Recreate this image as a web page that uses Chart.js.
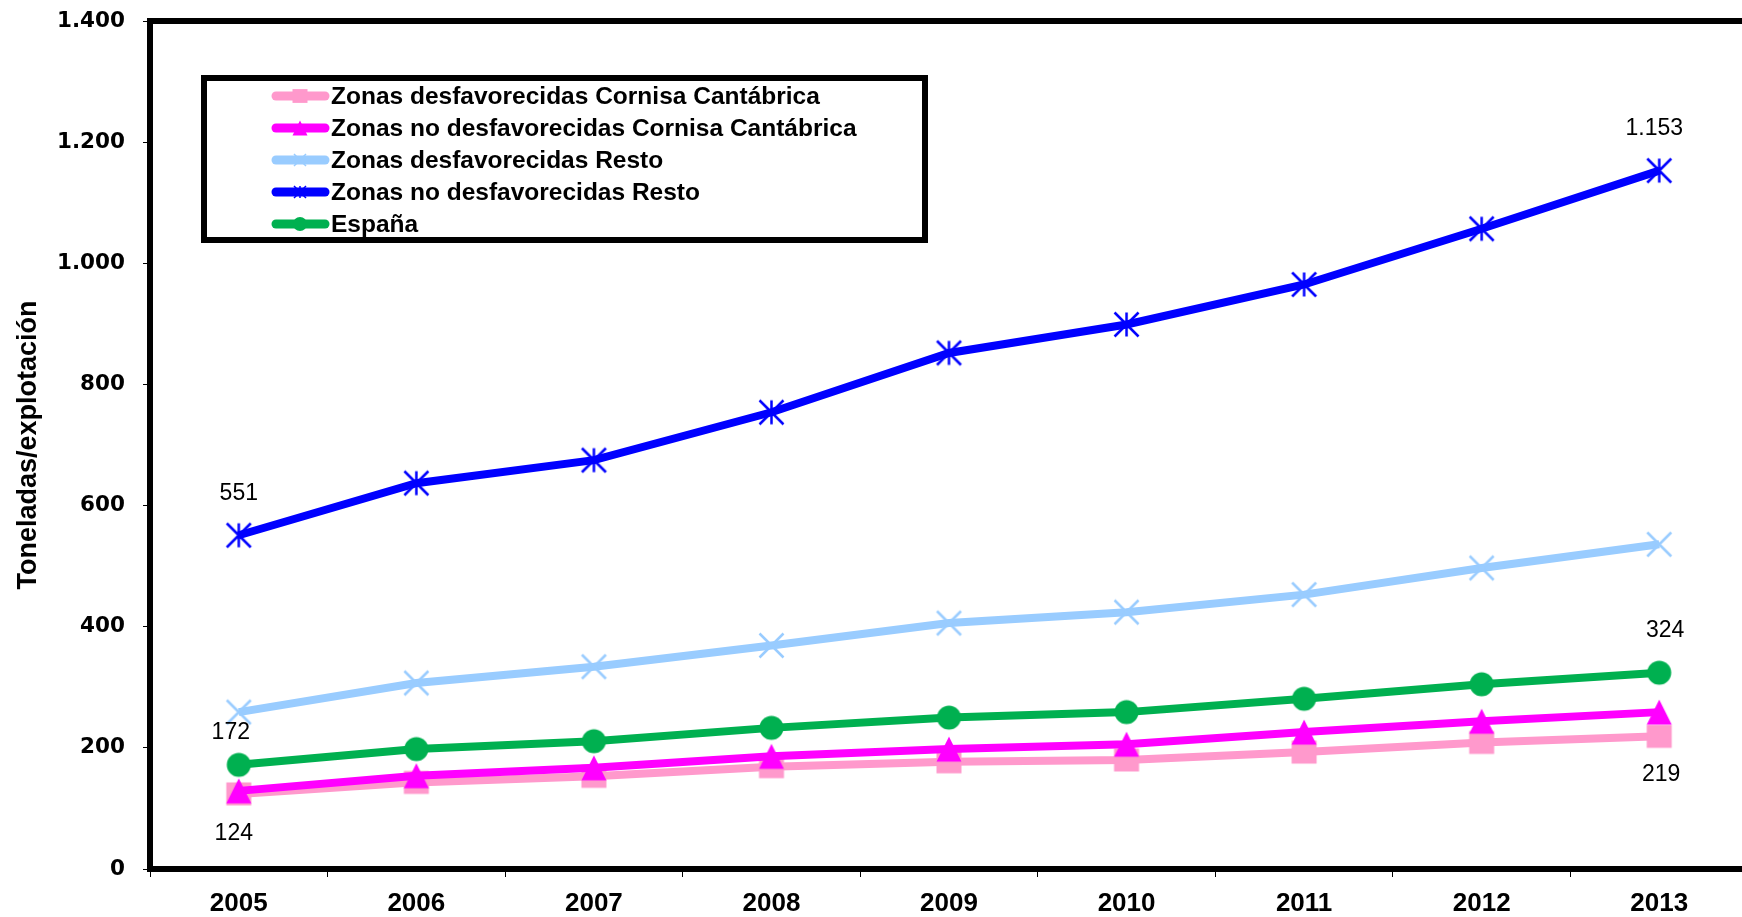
<!DOCTYPE html>
<html><head><meta charset="utf-8">
<script src="https://cdn.jsdelivr.net/npm/chart.js@4.4.1/dist/chart.umd.min.js"></script>
<style>
html,body{margin:0;padding:0;overflow:hidden;background:#fff;width:1742px;height:917px}
#wrap{position:absolute;left:0;top:0;width:1768px;height:917px}
</style>
</head><body><div id="wrap"><canvas id="c" width="1768" height="917"></canvas></div>
<script>
// ---- data ----
const years = ['2005','2006','2007','2008','2009','2010','2011','2012','2013'];
const zonasDesfCornisa   = [124,143,153,169,177,180,193,209,219];
const zonasNoDesfCornisa = [129,154,167,186,198,206,226,244,259];
const zonasDesfResto     = [259,307,334,369,406,424,453,497,536];
const zonasNoDesfResto   = [551,637,675,754,852,899,965,1057,1153];
const espana             = [172,198,211,233,250,259,281,305,324];
const seriesNames = [
  'Zonas desfavorecidas Cornisa Cantábrica',
  'Zonas no desfavorecidas Cornisa Cantábrica',
  'Zonas desfavorecidas Resto',
  'Zonas no desfavorecidas Resto',
  'España'
];
const yTickValues = [0,200,400,600,800,1000,1200,1400];
const yTitle = 'Toneladas/explotación';
// labelled points: [series index, year index]
const labelledPoints = [[3,0],[3,8],[4,0],[4,8],[0,0],[0,8]];

// ---- styles ----
const colors = ['#FF99CC','#FF00FF','#99CCFF','#0000FF','#00B050'];
const shapes = ['square','triangle','x','asterisk','circle'];
const labelOffsets = {'3,0':[0,-42],'3,8':[-5,-42],'4,0':[-8,-32],'4,8':[6,-42],'0,0':[-5,40],'0,8':[2,38]};

function fmt(v){ return String(Math.round(v)).replace(/\B(?=(\d{3})+(?!\d))/g,'.'); }

function drawShape(ctx, shape, x, y, s, color, lw){
  ctx.save();
  ctx.fillStyle = color; ctx.strokeStyle = color; ctx.lineWidth = lw; ctx.lineCap='butt';
  ctx.beginPath();
  if (shape==='square'){ ctx.rect(x-s, y-s*0.92, 2*s, 2*s*0.92); ctx.fill(); }
  else if (shape==='circle'){ ctx.arc(x,y,s,0,Math.PI*2); ctx.fill(); }
  else if (shape==='triangle'){ ctx.moveTo(x, y-s); ctx.lineTo(x+s, y+s); ctx.lineTo(x-s, y+s); ctx.closePath(); ctx.fill(); }
  else if (shape==='x'){ ctx.moveTo(x-s,y-s); ctx.lineTo(x+s,y+s); ctx.moveTo(x-s,y+s); ctx.lineTo(x+s,y-s); ctx.stroke(); }
  else if (shape==='asterisk'){ ctx.moveTo(x-s,y-s); ctx.lineTo(x+s,y+s); ctx.moveTo(x-s,y+s); ctx.lineTo(x+s,y-s); ctx.moveTo(x,y-s); ctx.lineTo(x,y+s); ctx.stroke(); }
  ctx.restore();
}
function markerImage(shape, color, s, lw){
  const c = document.createElement('canvas');
  const size = Math.ceil(2*s + lw + 2);
  c.width = size; c.height = size;
  drawShape(c.getContext('2d'), shape, size/2, size/2, s, color, lw);
  return c;
}
const markerHalf = [12.5, 12.5, 12, 12, 12];
const markerImgs = shapes.map((sh,k)=>markerImage(sh, colors[k], markerHalf[k], 2.5));

const frame = {
  id:'frame',
  beforeDatasetsDraw(chart){
    const {ctx, chartArea:a} = chart;
    ctx.save(); ctx.strokeStyle='#000'; ctx.lineWidth=6;
    ctx.beginPath(); ctx.moveTo(a.left-3, a.top); ctx.lineTo(a.right+3, a.top);
    ctx.moveTo(a.right, a.top); ctx.lineTo(a.right, a.bottom); ctx.stroke(); ctx.restore();
  }
};
const valueLabels = {
  id:'valueLabels',
  afterDatasetsDraw(chart){
    const ctx = chart.ctx;
    ctx.save();
    ctx.font = '23px "Liberation Sans", Arial, sans-serif';
    ctx.fillStyle = '#000'; ctx.textAlign='center'; ctx.textBaseline='middle';
    labelledPoints.forEach(([s,i])=>{
      const el = chart.getDatasetMeta(s).data[i];
      const off = labelOffsets[s+','+i];
      ctx.fillText(fmt(chart.data.datasets[s].data[i]), el.x+off[0], el.y+off[1]);
    });
    ctx.restore();
  }
};
const boxLegend = {
  id:'boxLegend',
  afterDraw(chart){
    const ctx = chart.ctx;
    ctx.save();
    ctx.strokeStyle='#000'; ctx.lineWidth=6;
    ctx.fillStyle='#fff';
    ctx.fillRect(204,78,721,162);
    ctx.strokeRect(204,78,721,162);
    ctx.font = 'bold 24.5px "Liberation Sans", Arial, sans-serif';
    ctx.textBaseline='middle'; ctx.textAlign='left';
    seriesNames.forEach((name,k)=>{
      const y = 96 + k*32;
      ctx.strokeStyle = colors[k]; ctx.lineWidth = 9; ctx.lineCap='round';
      ctx.beginPath(); ctx.moveTo(276,y); ctx.lineTo(325,y); ctx.stroke();
      drawShape(ctx, shapes[k], 300, y, shapes[k]==='circle'?7:(shapes[k]==='x'||shapes[k]==='asterisk'?6:7.5), colors[k], 1.5);
      ctx.fillStyle='#000';
      ctx.fillText(name, 331, y+1);
    });
    ctx.restore();
  }
};

const datasets = [zonasDesfCornisa, zonasNoDesfCornisa, zonasDesfResto, zonasNoDesfResto, espana].map((d,k)=>({
  label: seriesNames[k], data: d,
  borderColor: colors[k], backgroundColor: colors[k], borderWidth: 8,
  pointStyle: markerImgs[k], pointRadius: 12, tension: 0, order: 5-k
}));

new Chart(document.getElementById('c'), {
  type:'line',
  data:{ labels: years, datasets },
  options:{
    responsive:false, animation:false,
    layout:{ padding:{ left:0, right:6, top:21, bottom:0 } },
    plugins:{ legend:{display:false}, tooltip:{enabled:false} },
    scales:{
      x:{
        offset:true,
        grid:{ display:true, offset:true, drawOnChartArea:false, tickLength:8, tickColor:'#000', tickWidth:1 },
        border:{ display:true, color:'#000', width:6 },
        ticks:{ color:'#000', padding:11, font:{ family:'"Liberation Sans", Arial, sans-serif', weight:'bold', size:26 }, maxRotation:0 },
        afterFit(s){ s.height = 48; s.paddingLeft = 0; s.paddingRight = 0; }
      },
      y:{
        min:0, max:1400,
        afterBuildTicks(s){ s.ticks = yTickValues.map(v=>({value:v})); },
        grid:{ display:true, drawOnChartArea:false, tickLength:7, tickColor:'#000', tickWidth:1 },
        border:{ display:true, color:'#000', width:6 },
        ticks:{ color:'#000', padding:18, font:{ family:'"DejaVu Sans", sans-serif', weight:'bold', size:21.5 }, callback:(v)=>fmt(v) },
        title:{ display:true, text:yTitle, color:'#000', padding:{top:12,bottom:0}, font:{ family:'"Liberation Sans", Arial, sans-serif', weight:'bold', size:27 } },
        afterFit(s){ s.width = 150; s.paddingTop = 0; s.paddingBottom = 0; }
      }
    }
  },
  plugins:[frame, valueLabels, boxLegend]
});
</script>
</body></html>
